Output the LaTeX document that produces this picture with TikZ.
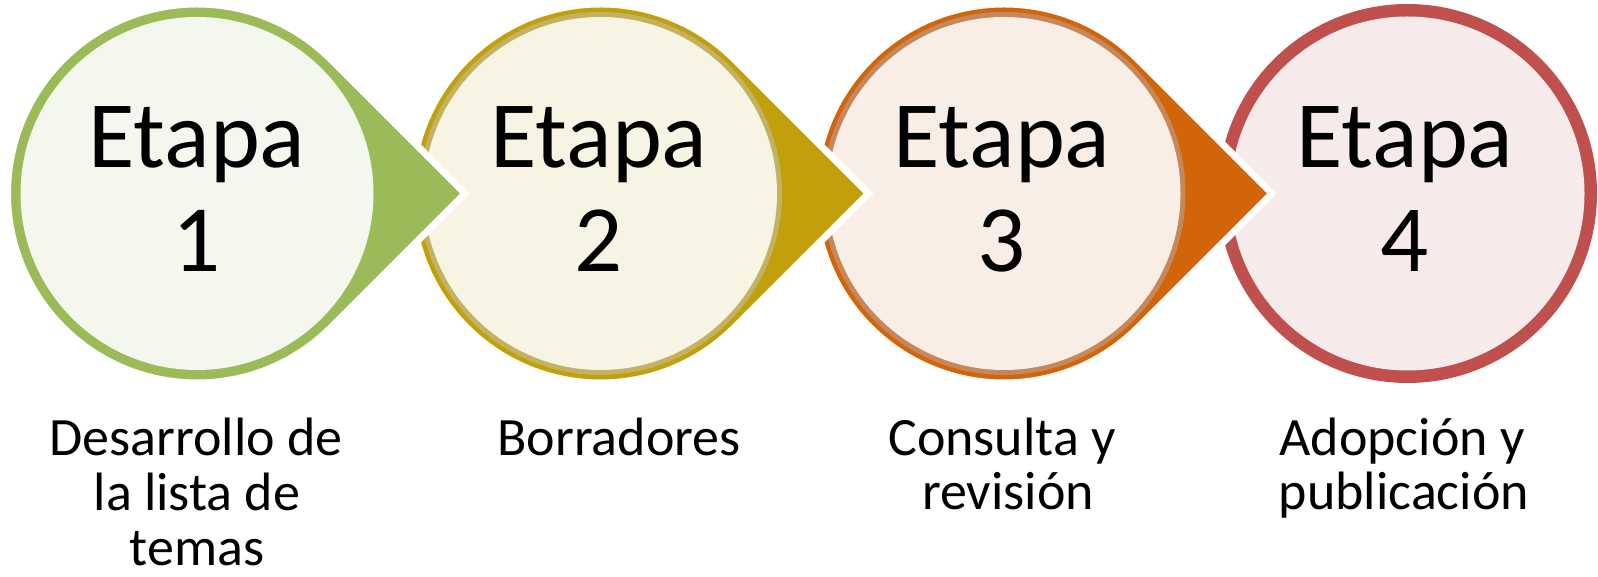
\documentclass[tikz,border=0pt]{standalone}
\usepackage{fontspec}
\setmainfont{Carlito}
\definecolor{gdark}{HTML}{9BBB59}
\definecolor{gfill}{HTML}{F4F7EE}
\definecolor{odark}{HTML}{C2A00B}
\definecolor{oring}{HTML}{C3B262}
\definecolor{ofill}{HTML}{F8F4E4}
\definecolor{rdark}{HTML}{D2650A}
\definecolor{rring}{HTML}{C6885A}
\definecolor{rfill}{HTML}{F9EEE5}
\definecolor{kdark}{HTML}{C0504D}
\definecolor{kfill}{HTML}{F7EAEA}
\newcommand\stagearrow[2]{%
  \filldraw[draw=white, line width=7pt, line join=miter, fill=#2]
    (#1+268,383.5) -- (#1+134,517.5)
    arc[start angle=45, end angle=315, radius=189.5] -- cycle;}
\begin{document}
\begin{tikzpicture}[x=1pt,y=1pt,
  etapa/.style={anchor=base, inner sep=0pt, font=\fontsize{95}{104}\selectfont},
  lbl/.style={anchor=base, inner sep=0pt, font=\fontsize{54}{53}\selectfont}]
\useasboundingbox (0,0) rectangle (1598,577);
% stage 4
\fill[kdark] (1407.5,383.5) circle[radius=189.5];
\fill[kfill] (1407.5,383.5) circle[radius=177];
% stage 3
\stagearrow{1004}{rdark}
\fill[rring] (1004,383.5) circle[radius=181.5];
\fill[rfill] (1004,383.5) circle[radius=176.5];
% stage 2
\stagearrow{600.5}{odark}
\fill[oring] (600.5,383.5) circle[radius=181.5];
\fill[ofill] (600.5,383.5) circle[radius=176.5];
% stage 1
\stagearrow{197}{gdark}
\fill[gfill] (197,383.5) circle[radius=176.5];
% texts
\node[etapa] (e1) at (197,409) {Etapa};
\node[etapa] (n1) at (197,305) {1};
\node[etapa] (e2) at (599,409) {Etapa};
\node[etapa] (n2) at (599,305) {2};
\node[etapa] (e3) at (1002,409) {Etapa};
\node[etapa] (n3) at (1002,305) {3};
\node[etapa] (e4) at (1405,409) {Etapa};
\node[etapa] (n4) at (1405,305) {4};
% labels
\node[lbl] (l1a) at (196,121) {Desarrollo de};
\node[lbl] (l1b) at (197,66) {la lista de};
\node[lbl] (l1c) at (197,11) {temas};
\node[lbl] (l2a) at (619,121.5) {Borradores};
\node[lbl] (l3a) at (1002,121.5) {Consulta y};
\node[lbl] (l3b) at (1008,67) {revisión};
\node[lbl] (l4a) at (1402,121.5) {Adopción y};
\node[lbl] (l4b) at (1404,67) {publicación};
\end{tikzpicture}
\end{document}
